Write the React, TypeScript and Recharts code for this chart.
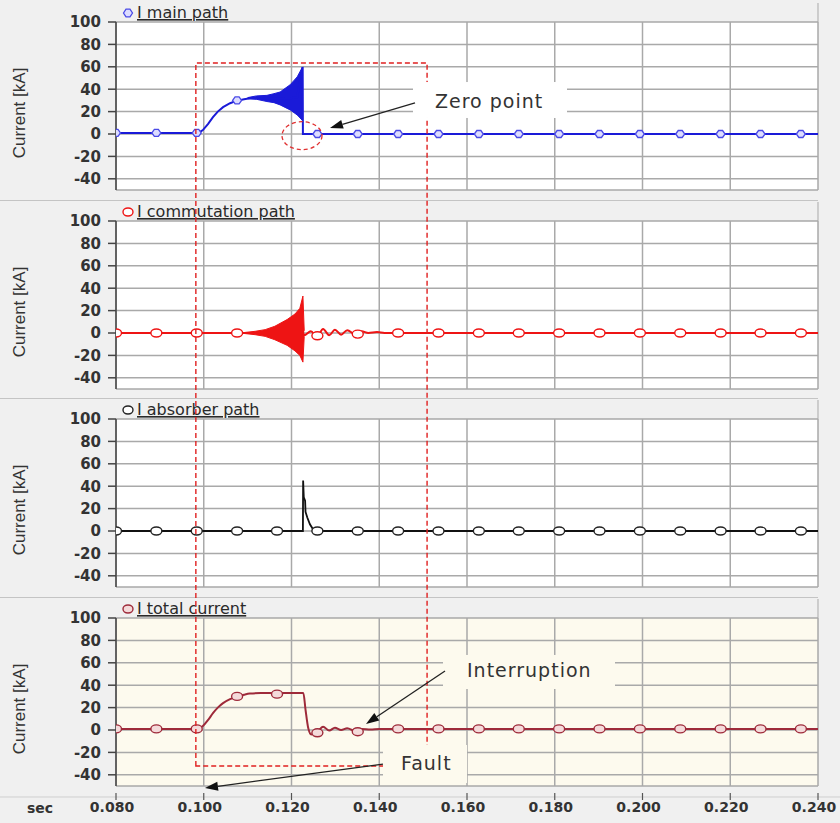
import React from 'react';
import { ComposedChart, Line, Area, Scatter, XAxis, YAxis, CartesianGrid } from 'recharts';

// ---------------- data ----------------
const xTicks = [0.08, 0.1, 0.12, 0.14, 0.16, 0.18, 0.2, 0.22, 0.24];
const yTicks = [-40, -20, 0, 20, 40, 60, 80, 100];

const seriesNames = ['I main path', 'I commutation path', 'I absorber path', 'I total current'];

const markerTimes = [0.08, 0.0892, 0.0984, 0.1076, 0.1167, 0.1259, 0.1351, 0.1443, 0.1535, 0.1627, 0.1718, 0.181, 0.1902, 0.1994, 0.2086, 0.2178, 0.2269, 0.2361];
const mainMarkerValues = [1, 1, 1, 30, null, 0, 0, 0, 0, 0, 0, 0, 0, 0, 0, 0, 0, 0];
const commMarkerValues = [0, 0, 0, 0, null, -2.5, -1, 0, 0, 0, 0, 0, 0, 0, 0, 0, 0, 0];
const absMarkerValues = [0, 0, 0, 0, 0, 0, 0, 0, 0, 0, 0, 0, 0, 0, 0, 0, 0, 0];
const totalMarkerValues = [1, 1, 1, 30, 32, -2.5, -1.5, 1, 1, 1, 1, 1, 1, 1, 1, 1, 1, 1];

const mainPath: [number, number][] = [
  [0.08, 1], [0.0982, 1], [0.0989, 1.2], [0.0998, 3.5], [0.101, 9], [0.1021, 15], [0.1032, 20],
  [0.1044, 24], [0.106, 27.5], [0.1074, 29.6], [0.1092, 31], [0.1105, 32], [0.1144, 31.5],
  [0.1174, 31.5], [0.1197, 32], [0.1213, 33], [0.12245, 59], [0.12255, 59], [0.1226, 0], [0.24, 0],
];
// oscillation envelope [t, low, high]
const mainBand: [number, number, number][] = [
  [0.11, 31.5, 32.5], [0.112, 31, 34], [0.1144, 29, 34.5], [0.116, 28, 36], [0.1174, 26, 37.5],
  [0.1197, 21.5, 44], [0.1213, 17, 51], [0.1224, 12.5, 59], [0.1226, 12, 60],
];

const commPath: [number, number][] = [
  [0.08, 0], [0.1226, 0], [0.1229, -2], [0.1244, 1.5], [0.1258, -3.5], [0.1272, 3.5], [0.1286, -2],
  [0.1299, 3], [0.1313, -1.5], [0.1327, 2.5], [0.1345, -1.2], [0.136, 1.5], [0.1375, 0], [0.1395, 0.8],
  [0.1412, 0], [0.24, 0],
];
const commBand: [number, number, number][] = [
  [0.1094, -0.5, 0.5], [0.1117, -1.5, 1.5], [0.114, -3, 3], [0.1162, -6, 6], [0.119, -11, 12],
  [0.1208, -16, 17], [0.1219, -20, 22], [0.1226, -26, 33], [0.1229, -3, 2],
];

const absorberPath: [number, number][] = [
  [0.08, 0], [0.1226, 0], [0.12265, 45], [0.1228, 30], [0.1231, 27], [0.1232, 17], [0.1236, 12],
  [0.1242, 6], [0.1249, 1.5], [0.1258, 0], [0.24, 0],
];

const totalPath: [number, number][] = [
  [0.08, 1], [0.0982, 1], [0.0989, 1.2], [0.0998, 3.5], [0.101, 9], [0.1021, 15], [0.1032, 20],
  [0.1044, 24], [0.106, 27.5], [0.1074, 29.6], [0.1092, 31.5], [0.1105, 32.5], [0.113, 33],
  [0.1227, 33], [0.1232, 18], [0.1238, 2], [0.1245, -4], [0.1258, -2], [0.1272, 3], [0.1286, -0.5],
  [0.1299, 2], [0.1313, 0], [0.1327, 1.5], [0.1345, -1], [0.136, 1], [0.138, 0.5], [0.14, 1], [0.24, 1],
];

// annotations in data coordinates (time, value, panel index)
const faultWindow = { t0: 0.0982, t1: 0.1509, vTop: 63.4, topPanel: 0, vBottom: -32.1, bottomPanel: 3 };
const zeroCircle = { t: 0.12239, v: -1.5, panel: 0, dt: 0.00456, dv: 12.5 };
const notes = [
  { text: 'Zero point', panel: 0, t: 0.15271, v: 23.2, box: [0.14769, 0.18279, 46.4, 14.3], arrow: [0.14815, 27.7, 0.12877, 5.4], bg: '#ffffff' },
  { text: 'Interruption', panel: 3, t: 0.16, v: 47.3, box: [0.15453, 0.19373, 67.0, 36.6], arrow: [0.15499, 52.7, 0.13698, 5.4], bg: '#fdfaee' },
  { text: 'Fault', panel: 3, t: 0.14496, v: -35.7, box: [0.14085, 0.16, -13.4, -47.3], arrow: [0.14085, -30.4, 0.10028, -51.8], bg: '#fdfaee' },
];

// ---------------- layout ----------------
const W = 840;
const H = 823;
const PLOT_LEFT = 116;
const PLOT_RIGHT = 818;
const PANEL_TOPS = [0, 199, 397, 596];
const PLOT_TOP = 22;
const PLOT_H = 168;
const X0 = 0.08, X1 = 0.24, Y0 = -50, Y1 = 100;

const px = (t: number) => PLOT_LEFT + ((t - X0) / (X1 - X0)) * (PLOT_RIGHT - PLOT_LEFT);
const py = (panel: number, v: number) => PANEL_TOPS[panel] + PLOT_TOP + ((Y1 - v) / (Y1 - Y0)) * PLOT_H;

const toPts = (arr: [number, number][]) => arr.map(([t, v]) => ({ t, v }));
const toBand = (arr: [number, number, number][]) => arr.map(([t, lo, hi]) => ({ t, range: [lo, hi] }));
const toMarkers = (vals: (number | null)[]) =>
  markerTimes.map((t, i) => ({ t, v: vals[i] })).filter((d) => d.v !== null);

const FONT = 'DejaVu Sans, Verdana, sans-serif';

const XTick = (props: any) => {
  const { x, y, payload } = props;
  return (
    <g>
      <line x1={x} x2={x} y1={y + 7} y2={y + 14} stroke="#555" strokeWidth={1.2} />
      <text x={x - 4} y={y + 26} textAnchor="middle" fontFamily={FONT} fontSize={14} fontWeight="bold" fill="#333">
        {Number(payload.value).toFixed(3)}
      </text>
    </g>
  );
};

const YLabel = (props: any) => {
  const vb = props.viewBox || { x: 0, y: 0, height: 0 };
  const cx = 19;
  const cy = vb.y + vb.height / 2 + 7;
  return (
    <text
      x={cx}
      y={cy}
      transform={`rotate(-90, ${cx}, ${cy})`}
      textAnchor="middle"
      dominantBaseline="central"
      fontFamily="Liberation Sans Narrow, Arial Narrow, sans-serif"
      fontSize={17}
      fill="#333"
    >
      Current [kA]
    </text>
  );
};

const diamond = (color: string, fill: string) => (p: any) => {
  const { cx, cy } = p;
  if (cx == null || cy == null) return <g />;
  const pts = `${cx - 4.5},${cy} ${cx - 2},${cy - 3.5} ${cx + 2},${cy - 3.5} ${cx + 4.5},${cy} ${cx + 2},${cy + 3.5} ${cx - 2},${cy + 3.5}`;
  return <polygon points={pts} fill={fill} stroke={color} strokeWidth={1.3} />;
};
const ring = (color: string, fill: string) => (p: any) => {
  const { cx, cy } = p;
  if (cx == null || cy == null) return <g />;
  return <ellipse cx={cx} cy={cy} rx={5.5} ry={4} fill={fill} stroke={color} strokeWidth={1.4} />;
};

const gridX = (args: any) => {
  const off = args && args.offset ? args.offset : { left: PLOT_LEFT, width: PLOT_RIGHT - PLOT_LEFT };
  return xTicks.map((t) => off.left + ((t - X0) / (X1 - X0)) * off.width);
};

type PanelProps = { idx: number; bg: string; showX?: boolean; children: React.ReactNode };

function Panel({ idx, bg, showX, children }: PanelProps) {
  const height = showX ? H - PANEL_TOPS[idx] : 199;
  const bottom = height - PLOT_TOP - PLOT_H - (showX ? 37 : 0);
  return (
    <div style={{ position: 'absolute', left: 0, top: PANEL_TOPS[idx] }}>
      <ComposedChart width={W} height={height} margin={{ top: PLOT_TOP, right: W - PLOT_RIGHT, bottom, left: 0 }}>
        <CartesianGrid
          stroke="#a9a9a9"
          strokeWidth={1.5}
          fill={bg}
          fillOpacity={1}
          verticalCoordinatesGenerator={gridX}
        />
        <XAxis
          type="number"
          dataKey="t"
          domain={[X0, X1]}
          ticks={xTicks}
          interval={0}
          allowDataOverflow
          hide={!showX}
          height={showX ? 37 : 0}
          axisLine={false}
          tickLine={false}
          tickSize={0}
          tickMargin={0}
          tick={showX ? <XTick /> : false}
        />
        <YAxis
          type="number"
          dataKey="v"
          domain={[Y0, Y1]}
          ticks={yTicks}
          interval={0}
          allowDataOverflow
          width={PLOT_LEFT}
          tickSize={8}
          tickMargin={7}
          stroke="#444"
          strokeWidth={1.5}
          tick={{ fontSize: 15, fontWeight: 'bold', fill: '#333', fontFamily: FONT }}
          label={<YLabel />}
        />
        {children}
      </ComposedChart>
    </div>
  );
}

function Header({ idx, kind, color, fill }: { idx: number; kind: 'diamond' | 'ring'; color: string; fill: string }) {
  const top = PANEL_TOPS[idx];
  const cy = top + 13;
  return (
    <g>
      {idx > 0 && <line x1={0} x2={PLOT_RIGHT} y1={top + 1.5} y2={top + 1.5} stroke="#c4c4c4" strokeWidth={1} />}
      <line x1={PLOT_RIGHT} x2={PLOT_RIGHT} y1={top + 3} y2={top + PLOT_TOP} stroke="#b5b5b5" strokeWidth={1.2} />
      {kind === 'diamond' ? (
        <polygon
          points={`${123.5},${cy} ${126},${cy - 3.8} ${130},${cy - 3.8} ${132.5},${cy} ${130},${cy + 3.8} ${126},${cy + 3.8}`}
          fill={fill}
          stroke={color}
          strokeWidth={1.3}
        />
      ) : (
        <ellipse cx={128} cy={cy} rx={5} ry={4} fill={fill} stroke={color} strokeWidth={1.4} />
      )}
      <text x={137} y={top + 18} fontFamily={FONT} fontSize={16} fill="#2a2a2a" textDecoration="underline">
        {seriesNames[idx]}
      </text>
    </g>
  );
}

function Arrow({ x1, y1, x2, y2 }: { x1: number; y1: number; x2: number; y2: number }) {
  const ang = Math.atan2(y2 - y1, x2 - x1);
  const L = 13;
  const hw = 4.5;
  const bx = x2 - L * Math.cos(ang);
  const by = y2 - L * Math.sin(ang);
  const p1 = `${bx + hw * Math.sin(ang)},${by - hw * Math.cos(ang)}`;
  const p2 = `${bx - hw * Math.sin(ang)},${by + hw * Math.cos(ang)}`;
  return (
    <g>
      <line x1={x1} y1={y1} x2={bx} y2={by} stroke="#222" strokeWidth={1.3} />
      <polygon points={`${x2},${y2} ${p1} ${p2}`} fill="#111" />
    </g>
  );
}

export default function App() {
  const blue = '#1a1ad8';
  const red = '#ee1414';
  const black = '#111111';
  const brown = '#9e2a3a';
  const fw = faultWindow;
  const xa = px(fw.t0);
  const xb = px(fw.t1);
  const ya = py(fw.topPanel, fw.vTop);
  const yb = py(fw.bottomPanel, fw.vBottom);
  return (
    <div style={{ position: 'absolute', left: 0, top: 0, width: W, height: H, background: '#f0f0f0', overflow: 'hidden' }}>
      <svg width={W} height={H} style={{ position: 'absolute', left: 0, top: 0 }}>
        <Header idx={0} kind="diamond" color="#4a4ae6" fill="#dcdcff" />
        <Header idx={1} kind="ring" color={red} fill="#fff" />
        <Header idx={2} kind="ring" color="#222" fill="#fff" />
        <Header idx={3} kind="ring" color={brown} fill="#f4dada" />
        <line x1={0} x2={W} y1={797} y2={797} stroke="#cfcfcf" strokeWidth={1} />
        <text x={40} y={813} textAnchor="middle" fontFamily={FONT} fontSize={14} fontWeight="bold" fill="#333">
          sec
        </text>
      </svg>

      <Panel idx={0} bg="#ffffff">
        <Line data={toPts(mainPath)} dataKey="v" type="linear" stroke={blue} strokeWidth={2} dot={false} isAnimationActive={false} />
        <Area data={toBand(mainBand)} dataKey="range" type="linear" stroke={blue} strokeWidth={1} fill={blue} fillOpacity={1} isAnimationActive={false} />
        <Scatter data={toMarkers(mainMarkerValues)} dataKey="v" shape={diamond('#4a4ae6', '#dcdcff')} isAnimationActive={false} />
      </Panel>

      <Panel idx={1} bg="#ffffff">
        <Line data={toPts(commPath)} dataKey="v" type="monotone" stroke={red} strokeWidth={2} dot={false} isAnimationActive={false} />
        <Area data={toBand(commBand)} dataKey="range" type="linear" stroke={red} strokeWidth={1} fill={red} fillOpacity={1} isAnimationActive={false} />
        <Scatter data={toMarkers(commMarkerValues)} dataKey="v" shape={ring(red, '#ffffff')} isAnimationActive={false} />
      </Panel>

      <Panel idx={2} bg="#ffffff">
        <Line data={toPts(absorberPath)} dataKey="v" type="linear" stroke={black} strokeWidth={1.8} dot={false} isAnimationActive={false} />
        <Scatter data={toMarkers(absMarkerValues)} dataKey="v" shape={ring('#222', '#ffffff')} isAnimationActive={false} />
      </Panel>

      <Panel idx={3} bg="#fdfaee" showX>
        <Line data={toPts(totalPath)} dataKey="v" type="monotone" stroke={brown} strokeWidth={2} dot={false} isAnimationActive={false} />
        <Scatter data={toMarkers(totalMarkerValues)} dataKey="v" shape={ring(brown, '#f4dada')} isAnimationActive={false} />
      </Panel>

      <svg width={W} height={H} style={{ position: 'absolute', left: 0, top: 0, pointerEvents: 'none' }}>
        <path
          d={`M${xa},${yb} L${xa},${ya} L${xb},${ya} L${xb},${yb} Z`}
          fill="none"
          stroke="#e02020"
          strokeWidth={1.4}
          strokeDasharray="5 3"
        />
        <ellipse
          cx={px(zeroCircle.t)}
          cy={py(zeroCircle.panel, zeroCircle.v)}
          rx={px(zeroCircle.t + zeroCircle.dt) - px(zeroCircle.t)}
          ry={py(zeroCircle.panel, zeroCircle.v - zeroCircle.dv) - py(zeroCircle.panel, zeroCircle.v)}
          fill="none"
          stroke="#e03030"
          strokeWidth={1.3}
          strokeDasharray="4 3"
        />
        {notes.map((n) => (
          <g key={n.text}>
            <rect
              x={px(n.box[0])}
              y={py(n.panel, n.box[2])}
              width={px(n.box[1]) - px(n.box[0])}
              height={py(n.panel, n.box[3]) - py(n.panel, n.box[2])}
              fill={n.bg}
            />
            <text x={px(n.t)} y={py(n.panel, n.v)} fontFamily={FONT} fontSize={19} letterSpacing={1} fill="#333">
              {n.text}
            </text>
            <Arrow x1={px(n.arrow[0])} y1={py(n.panel, n.arrow[1])} x2={px(n.arrow[2])} y2={py(n.panel, n.arrow[3])} />
          </g>
        ))}
      </svg>
    </div>
  );
}
